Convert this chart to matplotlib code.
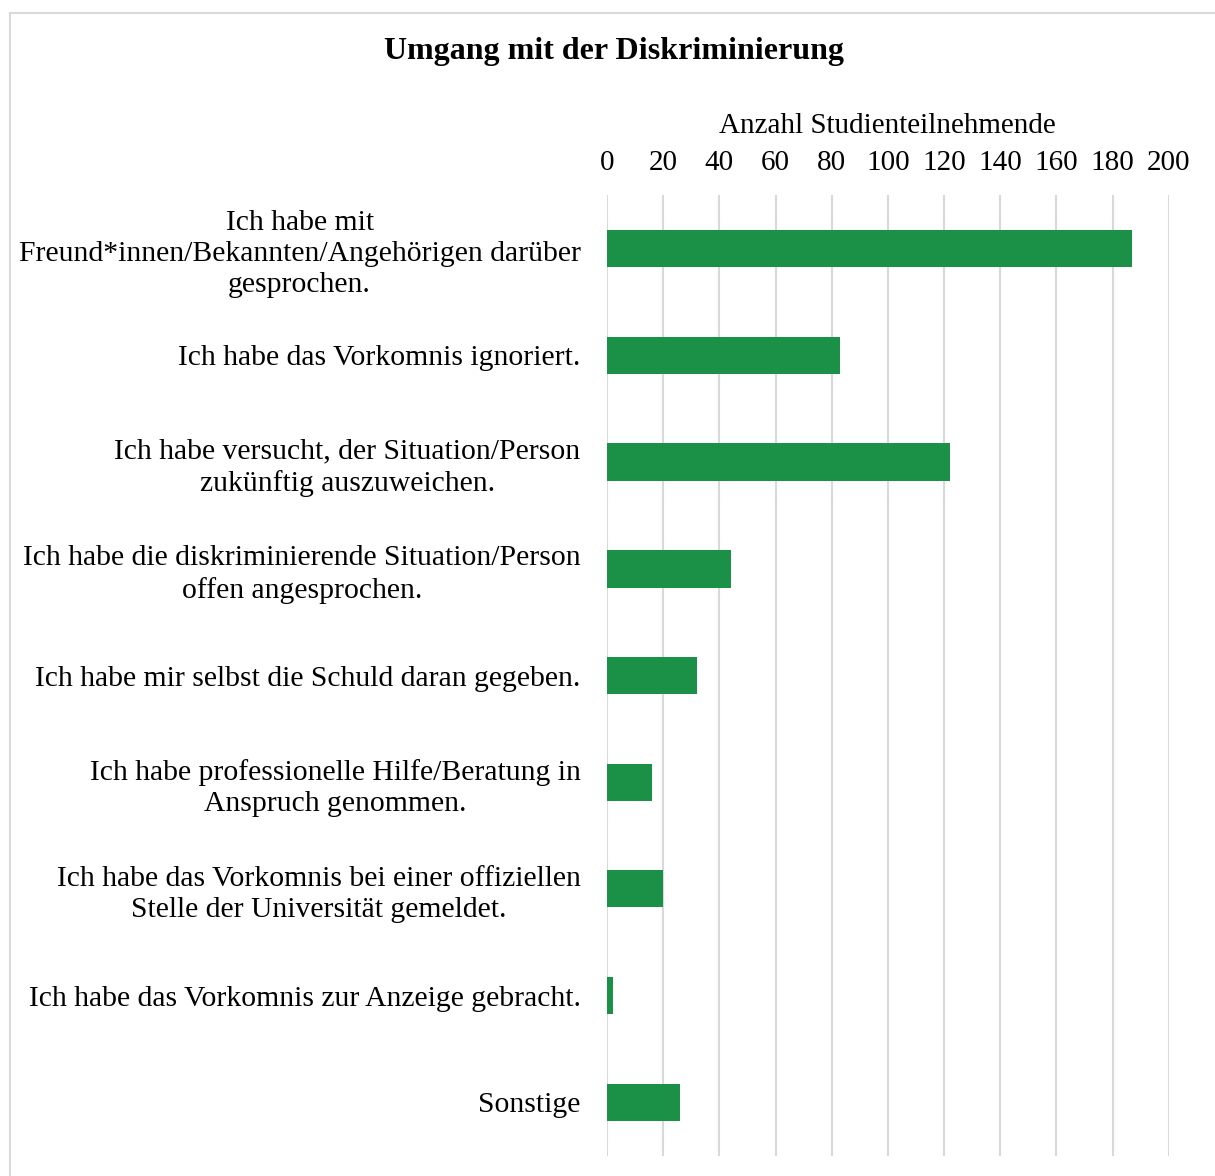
import matplotlib.pyplot as plt
from matplotlib.lines import Line2D
import numpy as np

# data
categories = [
    'Ich habe mit\nFreund*innen/Bekannten/Angehörigen darüber\ngesprochen.',
    'Ich habe das Vorkomnis ignoriert.',
    'Ich habe versucht, der Situation/Person\nzukünftig auszuweichen.',
    'Ich habe die diskriminierende Situation/Person\noffen angesprochen.',
    'Ich habe mir selbst die Schuld daran gegeben.',
    'Ich habe professionelle Hilfe/Beratung in\nAnspruch genommen.',
    'Ich habe das Vorkomnis bei einer offiziellen\nStelle der Universität gemeldet.',
    'Ich habe das Vorkomnis zur Anzeige gebracht.',
    'Sonstige',
]
counts = [187, 83, 122, 44, 32, 16, 20, 2, 26]
x_ticks = [0, 20, 40, 60, 80, 100, 120, 140, 160, 180, 200]

plt.rcParams['font.family'] = ['Liberation Serif', 'DejaVu Serif']

W, H = 1215, 1176
fig = plt.figure(figsize=(W / 100, H / 100), dpi=100)
ax = fig.add_axes([607 / W, 1 - 1155.5 / H, (1168.7 - 607) / W, (1155.5 - 195.5) / H])

y = np.arange(len(categories))
ax.barh(y, counts, height=0.35, color='#1B9147', zorder=3)
ax.set_ylim(len(categories) - 0.5, -0.5)
ax.set_xlim(0, 200)

ax.xaxis.tick_top()
ax.xaxis.set_label_position('top')
ax.set_xticks(x_ticks)
ax.set_xticklabels([str(t) for t in x_ticks], fontsize=21)
ax.tick_params(axis='x', length=0, pad=14)
ax.set_xlabel('Anzahl Studienteilnehmende', fontsize=21, labelpad=12)

ax.set_yticks(y)
ax.set_yticklabels(categories, fontsize=21.3, ma='center', linespacing=1.25)
ax.tick_params(axis='y', length=0, pad=19)

ax.grid(axis='x', color='#D9D9D9', linewidth=1.5, zorder=0)
for s in ax.spines.values():
    s.set_visible(False)

fig.text(614.5 / W, 1 - 52 / H, 'Umgang mit der Diskriminierung', fontsize=23,
         fontweight='bold', ha='center', va='center')

# chart border (only top and left visible in the crop)
bx, by = 10 / W, 1 - 13 / H
fig.add_artist(Line2D([bx, 1.01], [by, by], color='#D9D9D9', linewidth=1.5, transform=fig.transFigure))
fig.add_artist(Line2D([bx, bx], [by, -0.01], color='#D9D9D9', linewidth=1.5, transform=fig.transFigure))

fig.savefig('out.png', dpi=100)
